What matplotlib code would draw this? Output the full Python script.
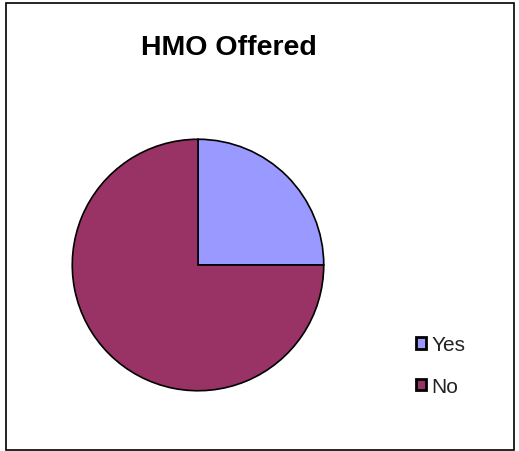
import matplotlib
matplotlib.use('Agg')
import matplotlib.pyplot as plt
from matplotlib.patches import Rectangle

# data
labels = ['Yes', 'No']
values = [25, 75]
colors = ['#9999FF', '#993366']

W, H = 519, 452
fig = plt.figure(figsize=(W / 100, H / 100), dpi=100)
plt.rcParams['font.family'] = ['Liberation Sans', 'DejaVu Sans']

# outer border of the chart area
fig.patches.append(Rectangle((6 / W, 1 / H), 508 / W, 447 / H, transform=fig.transFigure,
                             fill=False, edgecolor='black', linewidth=1.2))

cx, cy, r = 198, 266, 127
ax = fig.add_axes([(cx - r) / W, (H - cy - r) / H, 2 * r / W, 2 * r / H])
wedges, _ = ax.pie(values, colors=colors, startangle=90, counterclock=False,
                   wedgeprops=dict(edgecolor='black', linewidth=1.2))
ax.set_xlim(-1.01, 1.01)
ax.set_ylim(-1.01, 1.01)
ax.set_aspect('equal')
ax.axis('off')

fig.text(229 / W, 1 - 48 / H, 'HMO Offered', ha='center', va='center',
         fontsize=20.5, fontweight='bold')

handles = [Rectangle((0, 0), 1, 1, facecolor=c, edgecolor='black', linewidth=2) for c in colors]
leg = fig.legend(handles, labels, loc='upper left', bbox_to_anchor=(416 / W, 1 - 336 / H),
                 frameon=False, fontsize=15, handlelength=0.5, handleheight=0.5,
                 handletextpad=0.25, labelspacing=1.1, borderpad=0, borderaxespad=0)
for t in leg.get_texts():
    t.set_color('#222222')

fig.savefig('out.png', dpi=100)
